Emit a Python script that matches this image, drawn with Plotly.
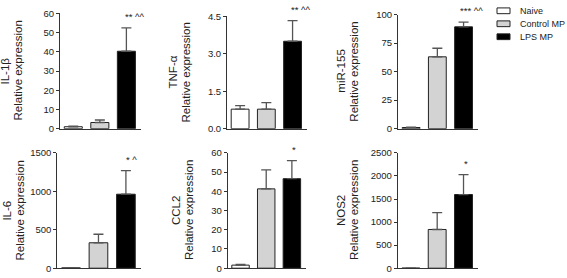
import plotly.graph_objects as go

# ---------------- data ----------------
groups = ["Naive", "Control MP", "LPS MP"]
bar_colors = ["#ffffff", "#d3d3d3", "#000000"]

genes = ["IL-1β", "TNF-α", "miR-155", "IL-6", "CCL2", "NOS2"]

il1b_mean = [1.0, 3.2, 40.3]
il1b_sem = [0.3, 1.3, 12.2]
tnf_mean = [0.78, 0.78, 3.5]
tnf_sem = [0.14, 0.26, 0.83]
mir155_mean = [1.0, 63.0, 89.3]
mir155_sem = [0.4, 7.5, 4.2]
il6_mean = [4, 331, 963]
il6_sem = [3, 111, 306]
ccl2_mean = [1.6, 41.3, 46.6]
ccl2_sem = [0.4, 9.9, 9.4]
nos2_mean = [1, 840, 1598]
nos2_sem = [0, 365, 433]

y_max = [60, 4.5, 100, 1500, 60, 2500]
y_dtick = [10, 1.5, 25, 500, 10, 500]
y_format = ["d", ".1f", "d", "d", "d", "d"]
sig_labels = ["** ^^", "** ^^", "*** ^^", "* ^", "*", "*"]

means = [il1b_mean, tnf_mean, mir155_mean, il6_mean, ccl2_mean, nos2_mean]
sems = [il1b_sem, tnf_sem, mir155_sem, il6_sem, ccl2_sem, nos2_sem]

# ---------------- layout (pixels) ----------------
W, H = 567, 278
# (x_left, x_right, y_top, y_bottom) of each plot area in pixels
boxes = [
    (60, 141, 7.7, 127.7),
    (227, 307, 10.7, 127.7),
    (398, 478, 9, 127.7),
    (57.3, 141, 153, 273),
    (227.7, 306, 153, 273),
    (397.7, 478, 153, 273),
]
title_centers = [12, 179.5, 347.5, 13.5, 182, 347]
sig_xshift = {"*": -2, "**": -3.5, "***": -5.5}

def px(x):
    return x / W

def py(y):
    return 1 - y / H

FONT = "Liberation Sans, Arial, sans-serif"
AX = "#333333"

fig = go.Figure()
annotations = []
shapes = []

for i in range(6):
    n = "" if i == 0 else str(i + 1)
    xl, xr, yt, yb = boxes[i]
    fig.add_trace(go.Bar(
        x=[0, 1, 2], y=means[i], width=0.68,
        marker=dict(color=bar_colors, line=dict(color="#222222", width=1)),
        error_y=dict(type="data", array=sems[i], arrayminus=[0, 0, 0],
                     symmetric=False, color="#555555", thickness=1.3, width=5),
        xaxis="x" + n, yaxis="y" + n, showlegend=False, hoverinfo="skip",
    ))
    fig.layout["xaxis" + n] = dict(
        domain=[px(xl), px(xr)], anchor="y" + n, range=[-0.5, 2.55],
        showticklabels=False, ticks="", showgrid=False, zeroline=False,
        showline=True, linecolor=AX, linewidth=1, fixedrange=True,
    )
    fig.layout["yaxis" + n] = dict(
        domain=[py(yb), py(yt)], anchor="x" + n, range=[0, y_max[i]],
        dtick=y_dtick[i], tick0=0, tickformat=y_format[i],
        ticks="outside", ticklen=3, tickcolor=AX, tickwidth=1,
        showgrid=False, zeroline=False, showline=True, linecolor=AX,
        linewidth=1, tickfont=dict(size=9.5, color="#222222", family=FONT),
        fixedrange=True,
    )
    # axis titles (two rotated lines)
    yc = (yt + yb) / 2
    c = title_centers[i]
    annotations.append(dict(text=genes[i], x=px(c - 6.5), y=py(yc), xref="paper",
                            yref="paper", textangle=-90, showarrow=False,
                            xanchor="center", yanchor="middle",
                            font=dict(size=11.5, family=FONT, color="#222222")))
    annotations.append(dict(text="Relative expression", x=px(c + 6.5), y=py(yc),
                            xref="paper", yref="paper", textangle=-90,
                            showarrow=False, xanchor="center", yanchor="middle",
                            font=dict(size=11.5, family=FONT, color="#222222")))
    # significance labels
    lab = sig_labels[i]
    stars = lab.split(" ")[0]
    annotations.append(dict(text=lab, x=2, y=means[i][2] + sems[i][2],
                            xref="x" + n, yref="y" + n, showarrow=False,
                            xanchor="left", yanchor="bottom",
                            xshift=sig_xshift[stars], yshift=4,
                            font=dict(size=9.5, family=FONT, color="#222222")))

# legend (drawn manually)
leg_y = [5, 18.5, 32]
for g, col, yy in zip(groups, bar_colors, leg_y):
    shapes.append(dict(type="rect", xref="paper", yref="paper",
                       x0=px(497), x1=px(510), y0=py(yy + 3), y1=py(yy - 3),
                       fillcolor=col, line=dict(color="#222222", width=1)))
    annotations.append(dict(text=g, x=px(518), y=py(yy), xref="paper",
                            yref="paper", showarrow=False, xanchor="left",
                            yanchor="middle",
                            font=dict(size=9, family=FONT, color="#222222")))

fig.update_layout(
    width=W, height=H, margin=dict(l=0, r=0, t=0, b=0),
    paper_bgcolor="white", plot_bgcolor="white",
    font=dict(family=FONT, color="#222222"),
    annotations=annotations, shapes=shapes, showlegend=False,
    bargap=0.3,
)

fig.write_html(
    "out.html",
    config={"displayModeBar": False},
    post_script="document.body.style.margin='0px';document.body.style.overflow='hidden';",
)
